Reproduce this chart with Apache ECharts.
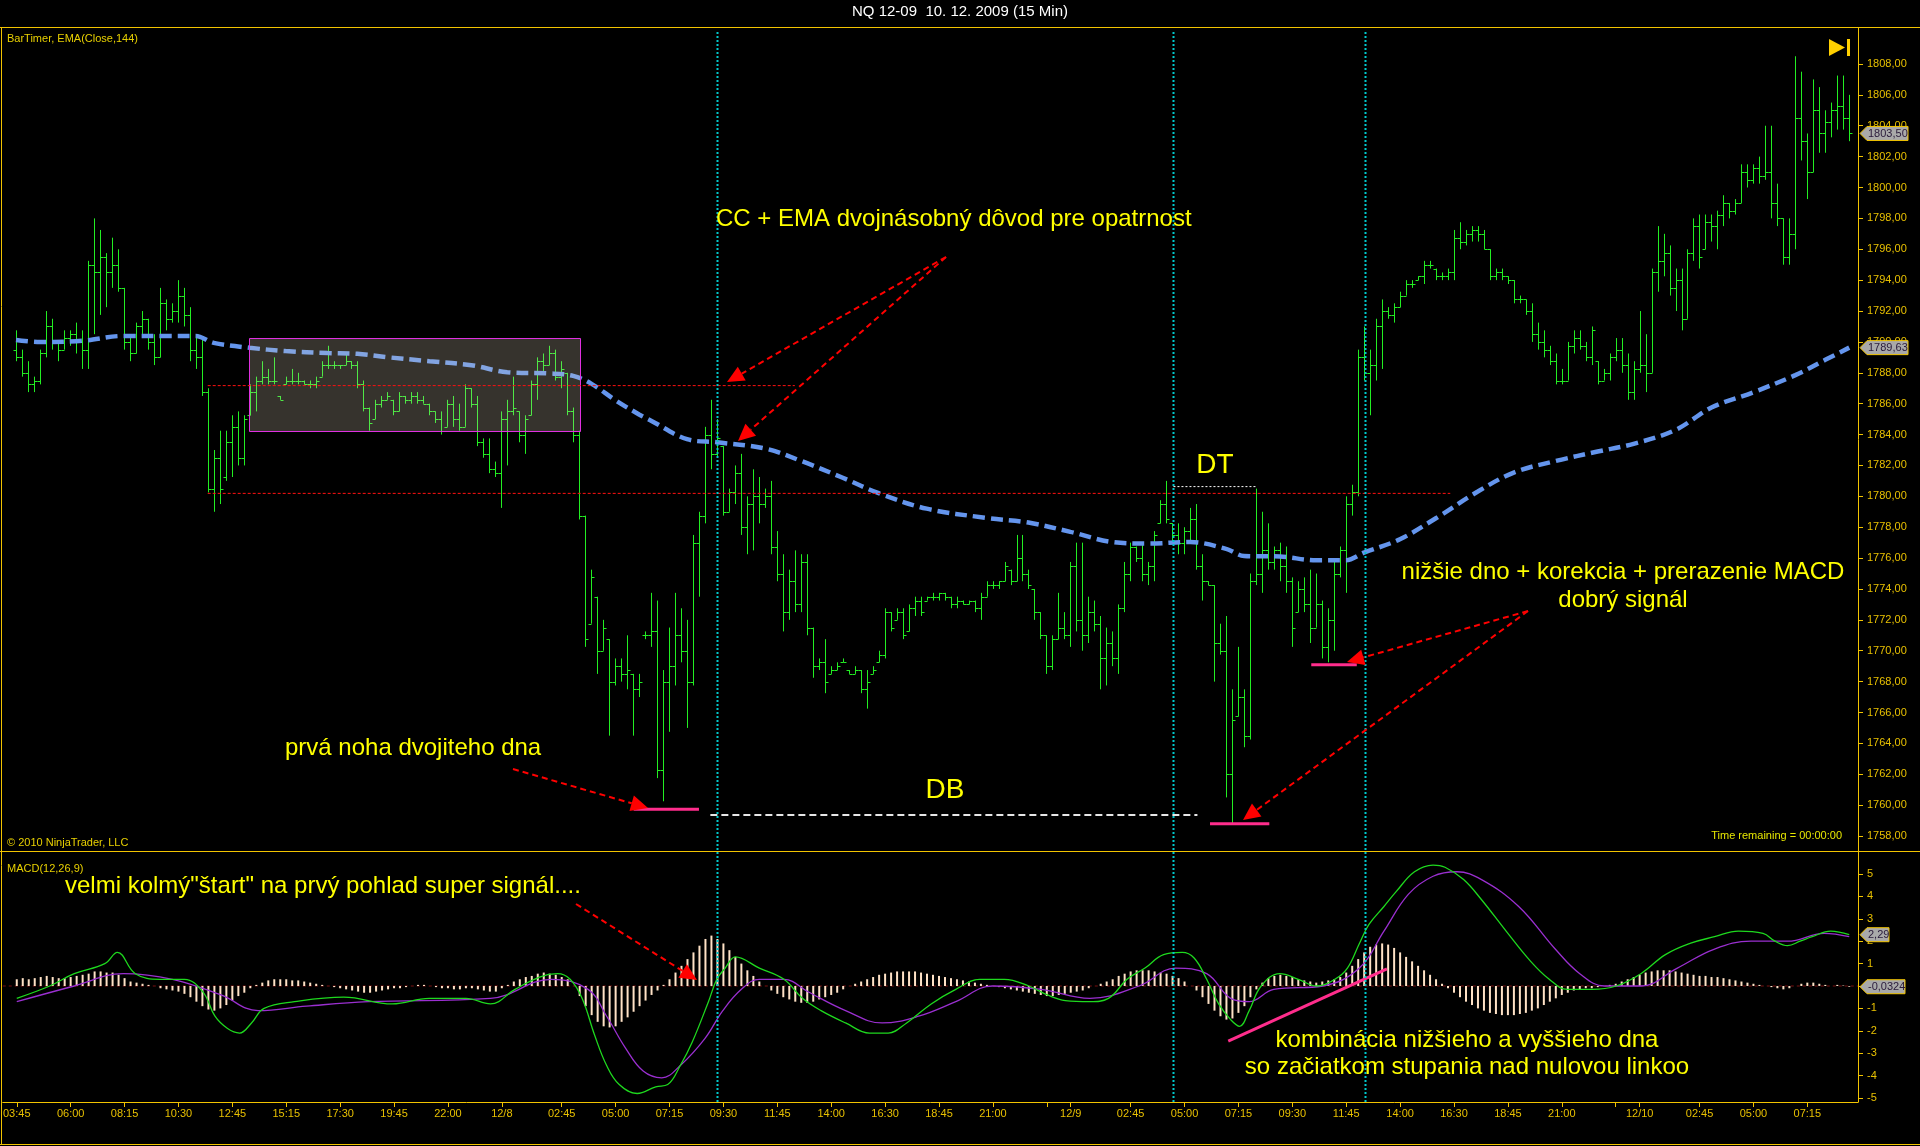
<!DOCTYPE html>
<html><head><meta charset="utf-8">
<script src="https://cdn.jsdelivr.net/npm/echarts@6/dist/echarts.min.js"></script>
<style>html,body{margin:0;padding:0;background:#000;overflow:hidden}#c{width:1920px;height:1146px}</style>
</head><body><div id="c"></div>
<script>
// ---------------- DATA ----------------
const barHigh = [
1790.75,1789.5,1788.75,1787.75,1789.5,1792,1791.5,1790,1790.75,1790.75,
1791.25,1790.75,1795.25,1798,1797.25,1795.75,1796.75,1796,1793.5,1790.5,
1791.25,1792,1791.5,1790.5,1793.5,1792.75,1792.5,1794,1793.5,1792.25,
1790.5,1790.25,1787,1783,1784.25,1784.25,1785.25,1785.5,1785.25,1787.25,
1787.75,1788.75,1788.25,1789,1786.5,1787.75,1788.25,1788,1787.5,1787.5,
1787.75,1788.75,1789.75,1788.75,1788.5,1789.25,1788.75,1788.75,1787.5,1785.75,
1786.25,1786.5,1786.75,1786.25,1786.75,1786.5,1786.75,1786.75,1786.5,1786,
1785.5,1785.5,1786.25,1786.5,1786,1787.25,1787,1786.5,1783.75,1783.75,
1782.25,1785.5,1786.25,1787.75,1785.5,1785.25,1787.5,1789,1789.25,1789.75,
1789.5,1788.75,1788,1785.75,1784.25,1778.75,1775.25,1773.5,1772,1770.75,
1769.5,1769.5,1771,1768.5,1768.5,1771.25,1773.75,1773.25,1768.75,1771.5,
1773.75,1772.75,1772,1777.5,1779,1784.5,1786.25,1785,1783.25,1780.5,
1782,1782.75,1780,1781.75,1781.25,1780.5,1781,1777.75,1776.25,1775.25,
1776.5,1776.25,1776.25,1771.5,1769.5,1770.75,1769,1769.25,1769.5,1768.75,
1769,1768.75,1768.75,1769,1770,1772.75,1772.5,1772.75,1772.75,1773,
1773.5,1773.5,1773.5,1773.75,1773.75,1773.75,1773.5,1773.5,1773.25,1773.25,
1773.25,1773.75,1774.5,1774.5,1774.5,1775.75,1775.25,1777.5,1777.5,1775.25,
1774,1772.5,1771,1771,1773.75,1772.5,1775.75,1777,1777,1773.5,
1773.25,1772.25,1771.5,1771.25,1773,1775.75,1777,1776.75,1777,1775.75,
1777.75,1779.75,1781,1778.25,1778.25,1778,1779.25,1779.5,1776.25,1774.5,
1774.25,1771.75,1772.25,1767.5,1770.25,1767.5,1775,1780.5,1779,1778.25,
1776.75,1777,1776.75,1774.75,1774.5,1774.75,1775.25,1775,1773.25,1772.75,
1775.75,1776.75,1780,1780.75,1789.5,1791,1789.5,1791.5,1792.75,1792.25,
1792.5,1793.25,1794,1794,1794.25,1795.25,1795.25,1794.75,1794.5,1794.75,
1797.25,1797.75,1797.25,1797.5,1797.5,1797.25,1796,1794.75,1794.75,1794.25,
1794,1793,1792.75,1792.5,1791.25,1790.75,1789.75,1789.25,1788.25,1790,
1790.75,1790.75,1790,1791,1788.75,1788.25,1789.25,1790.25,1790.25,1789.25,
1788.75,1792,1790.5,1794.75,1797.5,1797,1796.25,1794.75,1794.75,1796,
1798,1798.25,1798.25,1798.25,1798.5,1799.5,1799,1799.25,1801.5,1801.5,
1801.5,1802,1804,1804,1800.25,1798,1798,1808.5,1807.5,1803.5,
1807,1806.5,1805,1805.5,1807.25,1807.25,1806];
const barLow = [
1788.75,1787.75,1786.75,1786.75,1787.25,1789,1789.5,1788.75,1789.5,1789.75,
1789.25,1788.25,1788.25,1790.5,1791.75,1792.25,1793.5,1793.25,1789.5,1788.75,
1789.25,1790.25,1789.5,1788.5,1789,1790.75,1791.25,1791.25,1791,1788.75,
1788.25,1786.5,1780.25,1779,1779.5,1781,1781.25,1782,1782,1785.25,
1785.5,1787.25,1787.25,1787.25,1786.25,1787.25,1787.25,1787.25,1787.25,1787,
1787,1787.75,1788.25,1788.25,1788.25,1788.5,1788.25,1787,1785.5,1784.25,
1785,1785.75,1786.25,1785.25,1785.5,1786,1786,1786,1786,1785.25,
1784.75,1784,1784.5,1784.5,1784.25,1784.5,1785.75,1783.25,1782.5,1781.5,
1781.25,1779.25,1782,1785.25,1783.5,1782.75,1785.25,1786.25,1788,1788.5,
1787.5,1787,1785.25,1783.5,1778.5,1770.25,1771.75,1768.5,1770,1764.5,
1767.75,1768,1767.5,1764.5,1767,1770.75,1770.25,1761.75,1760.25,1764.75,
1767.75,1769.25,1765,1767.75,1773.5,1778.25,1781.75,1782.5,1778.75,1779,
1779.5,1777.5,1776.25,1776.5,1778.25,1779.25,1776.25,1774.5,1771.25,1772,
1772.5,1772.5,1771,1768.25,1768.75,1767.25,1768.5,1768.75,1769.25,1768.5,
1768.5,1767.25,1766.25,1768.5,1769.25,1769.5,1771.25,1772,1770.75,1771.25,
1772.25,1772.25,1773.25,1773.25,1773.25,1773.25,1772.75,1772.75,1773,1773,
1772.5,1772,1773.5,1774,1774,1774.5,1774.25,1774.5,1774.5,1774,
1772,1770.75,1768.5,1768.75,1770.75,1770.75,1770.25,1771.25,1770,1770.5,
1771.25,1767.5,1767.75,1769,1768.5,1772.5,1774.5,1775.75,1774.5,1774.25,
1774.5,1778.25,1778.25,1777,1776.25,1776.25,1777,1775.25,1773.25,1774.25,
1768,1769.75,1760.5,1758.75,1765.75,1763.75,1764.25,1774.25,1773.75,1775.25,
1775.25,1774.5,1773.75,1770.25,1772.5,1772.5,1770.5,1771.5,1769.5,1769.25,
1770,1774.75,1773.75,1778.75,1780,1787.5,1785.25,1787.5,1788.25,1791.5,
1791.25,1792.25,1793,1793.5,1794,1793.75,1794.75,1794,1794,1794,
1794,1796,1796.25,1796.5,1796.5,1796,1794,1794,1794,1793.75,
1792.5,1792.5,1791.75,1790,1789.5,1789,1788.5,1787.25,1787.25,1787.5,
1789.25,1789.5,1788.75,1788.5,1787.25,1787.5,1787.5,1788.75,1788,1786.25,
1786.25,1788,1786.75,1788,1793.25,1794.25,1793,1792,1790.75,1791.5,
1795.25,1794.75,1796,1796.5,1796,1797.5,1798,1798.25,1799,1800,
1800.25,1800.25,1800.5,1798,1797.5,1795,1795,1796,1801.75,1799.25,
1801,1802.25,1802.25,1803.25,1803.75,1803.75,1803];
const barOpen = [
1789.5,1789,1788,1787.25,1787.5,1789.25,1791,1790,1789.5,1790.25,
1790.5,1790,1789.5,1795,1794.5,1795.5,1794.5,1795,1793.5,1790,
1789.25,1791,1791.5,1790,1789,1792.5,1791.5,1792,1793,1791.75,
1789.5,1789,1786.75,1780.5,1782.5,1781.25,1783.5,1784.5,1782.5,1785.25,
1786.75,1787.5,1787.75,1787.5,1786.5,1787.25,1787.5,1787.5,1787.5,1787.25,
1787.25,1787.75,1788.5,1788.5,1788.5,1788.5,1788.75,1788.5,1787.25,1785.75,
1785,1786,1786.25,1786.25,1785.5,1786.5,1786.25,1786.5,1786.25,1786,
1785.5,1785,1784.5,1786,1785,1784.5,1787,1786,1783.5,1782.75,
1781.75,1781.5,1785,1785.5,1785.5,1784,1785.25,1787.25,1788.75,1788.5,
1789.25,1787.75,1788,1785.5,1784,1778.75,1771.75,1773.5,1770,1770.75,
1768,1769,1768.5,1768.5,1767.5,1771,1771,1771.25,1762.25,1768,
1769,1771,1770,1768,1777,1778.75,1784,1782.75,1783.25,1779,
1780.25,1781.5,1778,1779.5,1780,1779.5,1780,1776.75,1775,1772.5,
1774.5,1773,1775.75,1771.5,1769,1769.25,1768.5,1768.75,1769.25,1768.75,
1768.5,1768.75,1767.5,1768.5,1769.25,1769.75,1772.5,1772,1772.5,1771.25,
1772.75,1773.25,1773.25,1773.5,1773.5,1773.75,1773.5,1773,1773.25,1773,
1773.25,1772.75,1773.5,1774.25,1774.25,1774.5,1775.25,1774.5,1776,1775,
1774,1772.5,1771,1769,1770.75,1771.5,1771,1775.5,1772,1771,
1772.5,1771.75,1769.5,1770.5,1769.5,1772.75,1775,1776.75,1776,1775,
1775.5,1778.25,1779.5,1778.25,1777.5,1777,1777.75,1778.5,1775.5,1774.5,
1774.25,1770.5,1770,1762,1765.75,1767,1764.5,1774.5,1775,1776.5,
1775.75,1776.5,1775.5,1774.5,1772.5,1774,1773,1771.5,1773,1770.25,
1772,1775,1776.5,1779.5,1780.25,1789,1788,1788.5,1791,1792,
1791.75,1792.25,1793,1793.75,1794,1794.25,1795,1794.75,1794.25,1794.25,
1794.5,1796.75,1796.5,1797,1797.25,1797,1796,1794.25,1794.5,1794.25,
1794,1792.75,1792.75,1792,1790.5,1790,1789.5,1788.75,1787.5,1787.5,
1789.75,1790.25,1789.75,1789,1788.75,1787.5,1788,1789,1789.5,1788.5,
1786.75,1788.25,1788.5,1788,1794.5,1795.25,1795.75,1793.5,1794,1791.5,
1795.75,1797.5,1796,1797.75,1797.5,1798.25,1799,1798.5,1799,1801,
1800.5,1801.25,1800.75,1801,1799,1798,1795.5,1797,1804.5,1803,
1801,1805,1803.5,1804.25,1805,1805.25,1804.5];
const barClose = [
1789,1788,1787.25,1787.5,1789.25,1791,1790,1789.5,1790.25,1790.5,
1790,1789.5,1795,1794.5,1795.5,1794.5,1795,1793.5,1790,1789.25,
1791,1791.5,1790,1789,1792.5,1791.5,1792,1793,1791.75,1789.5,
1789,1786.75,1780.5,1782.5,1780.5,1783.5,1784.5,1782.5,1785,1786.75,
1787.5,1787.75,1787.5,1787.5,1786.25,1787.5,1787.5,1787.5,1787.25,1787.25,
1787.5,1788.5,1788.5,1788.5,1788.5,1788.75,1788.5,1787.25,1785.75,1784.75,
1786,1786.25,1786.5,1785.5,1786.5,1786.25,1786.5,1786.25,1786,1785.5,
1785,1784.25,1786,1785,1784.5,1787,1786,1783.5,1782.75,1781.75,
1781.5,1785,1785.5,1785.75,1784,1785,1787.25,1788.75,1788.5,1789.25,
1787.75,1788.25,1785.5,1784,1778.75,1770.75,1774.75,1770,1771.5,1768,
1769,1768.5,1768.75,1767.5,1768,1771,1771.25,1762.25,1768,1769,
1771,1770,1768,1777,1778.75,1784,1782.75,1783.75,1779,1780.25,
1781.5,1778,1779.5,1780,1779.5,1780,1776.75,1775,1772.5,1774.5,
1773,1775.75,1771.5,1769,1769.25,1768,1768.75,1769,1769.25,1768.5,
1768.75,1767.5,1768,1768.75,1769.75,1772.5,1771.5,1772.5,1771,1772.75,
1773.25,1772.5,1773.5,1773.5,1773.75,1773.5,1773,1773.25,1773,1773.25,
1772.75,1773.5,1774.25,1774.25,1774.5,1775.5,1774.5,1776,1775,1774.25,
1772.5,1771,1769,1770.75,1771.5,1771,1775.5,1772,1771,1772.5,
1771.75,1769.5,1770.5,1769.5,1772.75,1775,1776.75,1776,1775,1775.5,
1777.5,1779.5,1778.5,1777.5,1777,1777.75,1778.5,1775.5,1774.5,1774.25,
1770.5,1770,1762,1765.5,1767,1764.5,1774.5,1775,1776.5,1775.75,
1776.5,1775.5,1774.5,1771.5,1774,1773,1771.5,1773,1770.25,1772,
1775,1776.5,1779.5,1780.25,1789,1788,1788.5,1791,1792,1791.75,
1792.25,1793,1793.75,1793.75,1794.25,1795,1795,1794.25,1794.25,1794.5,
1796.75,1796.5,1797,1797.25,1797,1796,1794.25,1794.5,1794.25,1794,
1792.75,1792.75,1792,1790.5,1790,1789.5,1788.75,1787.5,1787.5,1789.75,
1790.25,1789.75,1789,1790.75,1787.5,1788,1789,1789.5,1788.5,1786.75,
1788.25,1788.5,1788,1794.5,1795.25,1795.75,1793.5,1794,1791.5,1795.75,
1797.5,1795.5,1797.75,1797.5,1798.25,1799,1798.5,1799,1801,1800.5,
1801.25,1800.75,1801,1799,1798,1795.5,1797,1804.5,1803,1801,
1805,1803.5,1804.25,1805,1805.25,1804.5,1803.5];

// EMA(144): [bar index, value]
const emaPoints = [[0,1790.13],[4,1790.0],[11,1790.07],[18,1790.39],[25,1790.39],[30,1790.39],[33,1789.94],[39,1789.62],[45,1789.41],[52,1789.28],[57,1789.23],[62,1789.01],[69,1788.75],[76,1788.49],[82,1788.04],[89,1787.96],[93,1787.8],[96,1787.3],[100,1786.24],[104,1785.3],[106,1784.9],[112,1783.7],[117,1783.5],[125,1783.1],[131,1782.3],[138,1781.2],[144,1780.2],[152,1779.2],[162,1778.6],[169,1778.3],[176,1777.7],[183,1777.04],[189,1776.94],[196,1777.04],[202,1776.6],[205,1776.14],[211,1776.1],[217,1775.86],[222,1775.86],[225,1776.35],[231,1777.22],[237,1778.58],[244,1780.31],[250,1781.54],[257,1782.29],[264,1782.9],[270,1783.4],[277,1784.3],[283,1785.75],[290,1786.74],[297,1787.85],[302,1788.84],[306,1789.63]];

// MACD(12,26,9) line and signal: [bar index, value]
const macdPoints = [[0,-0.55],[5.5,0],[9.6,0.55],[14.7,1.0],[16.8,1.5],[19.8,0.55],[23.9,0.3],[28,0.3],[31.1,-0.27],[33.1,-1.35],[35.2,-1.9],[37.2,-2.1],[39.2,-1.65],[41.3,-1.0],[46.4,-0.7],[54.6,-0.5],[62.7,-0.8],[68.9,-0.55],[75,-0.55],[79.1,-0.8],[83.2,-0.15],[87.3,0.4],[90.3,0.55],[92.4,0.3],[94.4,-0.55],[96.5,-2.2],[98.5,-3.55],[100.6,-4.4],[103.6,-4.8],[106.7,-4.5],[108.7,-4.4],[110.8,-3.55],[112.8,-2.5],[115.5,-0.7],[116.9,0.3],[118.3,0.8],[120,1.3],[124,0.8],[128.1,0.3],[131.2,-0.55],[134.3,-1.1],[138.4,-1.65],[142.4,-2.1],[145.5,-2.1],[148.6,-1.65],[152.7,-0.8],[156.8,-0.15],[160.8,0.3],[164.9,0.3],[169,0],[172.1,-0.4],[175.1,-0.65],[179.2,-0.7],[182.3,-0.55],[185.4,0.3],[188.4,0.8],[191.5,1.4],[194.6,1.5],[196.6,1.25],[198.7,0.3],[200.7,-0.8],[202.7,-1.5],[204.2,-1.8],[205.8,-1.1],[207.8,0],[210.9,0.55],[214,0.3],[217,0],[220.1,0.3],[222.2,0.8],[224.2,1.9],[225.8,2.75],[228.3,3.55],[230.3,4.2],[233.4,5.1],[236.5,5.4],[238.5,5.3],[241.6,4.75],[244.6,3.85],[248.7,2.45],[252.8,1.1],[255.9,0.3],[258.9,-0.15],[263,-0.15],[267.1,0],[271.2,0.55],[275.3,1.4],[279.4,1.9],[283.5,2.2],[287.5,2.45],[291.6,2.35],[293.6,2.0],[295.7,1.8],[297.8,2.0],[299.8,2.2],[302.9,2.45],[306,2.29]];
const signalPoints = [[0,-0.7],[9.6,0],[17.8,0.55],[26,0.3],[34.1,-0.4],[40.3,-1.1],[48.4,-0.9],[58.7,-0.7],[79.1,-0.55],[89.3,0.3],[95.4,-0.15],[98.5,-1.35],[101.6,-2.75],[104.6,-3.8],[107.7,-4.1],[110.8,-3.55],[114.9,-2.35],[117.9,-1.1],[121,-0.15],[124,0.3],[128.1,0.3],[132.2,-0.27],[138.4,-1.1],[144.5,-1.65],[150.6,-1.35],[156.8,-0.7],[162.9,0],[171.1,-0.15],[179.2,-0.55],[187.4,0],[193.5,0.8],[198.7,0.55],[202.7,-0.55],[205.8,-0.7],[209.9,-0.15],[218.1,0],[224.2,0.8],[228.3,2.45],[232.4,4.1],[236.5,4.9],[240.5,5.1],[244.6,4.75],[250.8,3.55],[256.9,1.65],[261,0.55],[265.1,0],[271.2,0],[277.3,0.8],[283.5,1.65],[289.6,2.0],[295.7,2.0],[301.8,2.35],[306,2.2]];
// MACD histogram, one value per bar
const histValues = [
0.3,0.35,0.3,0.35,0.4,0.45,0.4,0.35,0.35,0.4,
0.45,0.5,0.55,0.65,0.65,0.6,0.6,0.5,0.35,0.2,
0.15,0.1,0.05,0.0,-0.1,-0.15,-0.2,-0.25,-0.35,-0.5,
-0.7,-0.9,-1.05,-1.1,-1.0,-0.85,-0.65,-0.45,-0.3,-0.1,
0.05,0.15,0.25,0.3,0.3,0.3,0.25,0.25,0.2,0.15,
0.1,0.05,0.0,-0.05,-0.1,-0.15,-0.2,-0.25,-0.3,-0.3,
-0.25,-0.2,-0.15,-0.1,-0.1,-0.05,0.0,0.05,0.05,0.0,
-0.05,-0.1,-0.1,-0.15,-0.15,-0.1,-0.1,-0.15,-0.2,-0.25,
-0.25,-0.1,0.05,0.2,0.3,0.4,0.45,0.55,0.6,0.55,
0.5,0.4,0.3,0.0,-0.45,-0.9,-1.3,-1.6,-1.8,-1.85,
-1.8,-1.6,-1.4,-1.15,-0.9,-0.65,-0.4,-0.2,0.05,0.3,
0.6,0.9,1.2,1.5,1.8,2.1,2.25,2.1,1.9,1.6,
1.3,1.0,0.7,0.45,0.2,0.0,-0.2,-0.35,-0.5,-0.6,
-0.7,-0.75,-0.75,-0.7,-0.6,-0.5,-0.4,-0.3,-0.15,0.0,
0.1,0.2,0.3,0.4,0.5,0.55,0.6,0.65,0.65,0.65,
0.65,0.6,0.55,0.5,0.45,0.4,0.35,0.3,0.25,0.2,
0.15,0.1,0.05,0.0,-0.05,-0.1,-0.15,-0.2,-0.25,-0.3,
-0.35,-0.4,-0.45,-0.45,-0.4,-0.35,-0.3,-0.25,-0.2,-0.1,
0.0,0.1,0.2,0.3,0.45,0.55,0.65,0.7,0.7,0.7,
0.65,0.6,0.55,0.45,0.35,0.2,0.0,-0.2,-0.5,-0.8,
-1.1,-1.35,-1.5,-1.45,-1.2,-0.9,-0.5,-0.15,0.15,0.35,
0.45,0.5,0.45,0.4,0.3,0.25,0.2,0.15,0.2,0.25,
0.3,0.4,0.6,0.9,1.2,1.5,1.75,1.85,1.9,1.85,
1.7,1.5,1.3,1.1,0.9,0.7,0.5,0.3,0.1,-0.1,
-0.3,-0.5,-0.7,-0.85,-1.0,-1.1,-1.2,-1.25,-1.3,-1.3,
-1.3,-1.25,-1.2,-1.1,-1.0,-0.85,-0.7,-0.55,-0.4,-0.3,
-0.2,-0.15,-0.1,-0.1,-0.05,0.0,0.05,0.1,0.2,0.3,
0.4,0.5,0.6,0.65,0.7,0.7,0.7,0.65,0.6,0.55,
0.5,0.45,0.45,0.4,0.4,0.35,0.3,0.25,0.2,0.15,
0.1,0.05,0.0,-0.05,-0.1,-0.15,-0.1,0.0,0.1,0.15,
0.15,0.1,0.05,0.0,0.05,0.02,-0.0324];

// x axis ticks (bar index) and labels
const xTickIdx    = [0,9,18,27,36,45,54,63,72,81,91,100,109,118,127,136,145,154,163,172,176,186,195,204,213,222,231,240,249,258,267,271,281,290,299];
const xTickLabels = ['03:45','06:00','08:15','10:30','12:45','15:15','17:30','19:45','22:00','12/8','02:45','05:00','07:15','09:30','11:45','14:00','16:30','18:45','21:00','','12/9','02:45','05:00','07:15','09:30','11:45','14:00','16:30','18:45','21:00','','12/10','02:45','05:00','07:15'];
const priceTicks = [1758,1760,1762,1764,1766,1768,1770,1772,1774,1776,1778,1780,1782,1784,1786,1788,1790,1792,1794,1796,1798,1800,1802,1804,1806,1808];
const macdTicks = [-5,-4,-3,-2,-1,0,1,2,3,4,5];
const lastPrice = 1803.50, lastEma = 1789.63, lastMacd = 2.29, lastHist = -0.0324;

// annotation geometry (bar index / value units)
const boxRange = [38.9, 94.1, 1784.23, 1790.25];
const redLevels = [[32,130,1787.17],[32,239.4,1780.19]];
const dbLine = [115.9,197.2,1759.36];
const dtLine = [193.2,207.2,1780.63];
const pinkLines = [[103.1,114.0,1759.73],[199.3,209.2,1758.8],[216.2,223.8,1769.1]];
const macdPinkLine = [[202.3,-2.46],[228.8,0.76]];
const cyanIdx = [117.0,193.2,225.2];

// ---------------- CHART ----------------
const GOLD = '#F2C400', LBL = '#E8C000';
const XMIN = -2.337, XMAX = 307.46;
const chart = echarts.init(document.getElementById('c'));
const fmt2 = v => v.toFixed(2).replace('.', ',');
const labelMap = {};
xTickIdx.forEach((v, i) => labelMap[v] = xTickLabels[i]);

const ohlc = barHigh.map((h, i) => [i, barOpen[i], h, barLow[i], barClose[i]]);
const hist = histValues.map((v, i) => [i, v]);

function seg(xa, ya, pts, color, width, dash, z) {
  return {type:'line', xAxisIndex:xa, yAxisIndex:ya, data:pts, symbol:'none', silent:true, animation:false,
    lineStyle:{color, width, type:dash}, z:z||6};
}

const series = [
  {type:'custom', xAxisIndex:0, yAxisIndex:0, data:ohlc, encode:{x:0, y:[1,2,3,4]}, z:2, animation:false,
   renderItem(p, api) {
     const i = api.value(0);
     const o = api.coord([i, api.value(1)]), h = api.coord([i, api.value(2)]),
           l = api.coord([i, api.value(3)]), c = api.coord([i, api.value(4)]);
     const x = Math.round(h[0]) + 0.5;
     let y1 = h[1], y2 = l[1]; if (y2 - y1 < 1) y2 = y1 + 1;
     const st = {stroke:'#22EE22', lineWidth:1};
     const oy = Math.round(o[1]) + 0.5, cy = Math.round(c[1]) + 0.5;
     return {type:'group', children:[
       {type:'line', shape:{x1:x, y1:y1, x2:x, y2:y2}, style:st},
       {type:'line', shape:{x1:x-3, y1:oy, x2:x, y2:oy}, style:st},
       {type:'line', shape:{x1:x, y1:cy, x2:x+3, y2:cy}, style:st}
     ]};
   }},
  {type:'line', xAxisIndex:0, yAxisIndex:0, data:emaPoints, smooth:0.35, symbol:'none', z:3, animation:false,
   lineStyle:{color:'#6495ED', width:4.5, type:[12,6]}},
  {type:'custom', xAxisIndex:0, yAxisIndex:0, data:[boxRange], encode:{x:[0,1], y:[2,3]}, z:4, animation:false,
   renderItem(p, api) {
     const a = api.coord([api.value(0), api.value(3)]), b = api.coord([api.value(1), api.value(2)]);
     return {type:'rect', shape:{x:Math.round(a[0])+0.5, y:Math.round(a[1])+0.5, width:Math.round(b[0]-a[0]), height:Math.round(b[1]-a[1])},
       style:{fill:'rgba(225,215,190,0.24)', stroke:'#E030E0', lineWidth:1}};
   }},
  // MACD pane
  {type:'line', xAxisIndex:1, yAxisIndex:1, data:[[XMIN,0],[XMAX,0]], symbol:'none', silent:true, z:1, animation:false,
   lineStyle:{color:'#7A1010', width:1, type:[3,3]}},
  {type:'bar', xAxisIndex:1, yAxisIndex:1, data:hist, barWidth:2, z:2, animation:false,
   itemStyle:{color:'#FFE2C6'}},
  {type:'line', xAxisIndex:1, yAxisIndex:1, data:signalPoints, smooth:0.4, symbol:'none', z:3, animation:false,
   lineStyle:{color:'#9A2FD0', width:1.3}},
  {type:'line', xAxisIndex:1, yAxisIndex:1, data:macdPoints, smooth:0.4, symbol:'none', z:4, animation:false,
   lineStyle:{color:'#1ED81E', width:1.3}}
];
redLevels.forEach(r => series.push(seg(0,0,[[r[0],r[2]],[r[1],r[2]]],'#FF1010',1,[3,2],5)));
series.push(seg(0,0,[[dbLine[0],dbLine[2]],[dbLine[1],dbLine[2]]],'#E6E6E6',2,[7,4],6));
series.push(seg(0,0,[[dtLine[0],dtLine[2]],[dtLine[1],dtLine[2]]],'#FFFFFF',1,[2,2],6));
pinkLines.forEach(r => series.push(seg(0,0,[[r[0],r[2]],[r[1],r[2]]],'#FF2D8C',3,'solid',6)));
series.push(seg(1,1,macdPinkLine,'#FF2D8C',3,'solid',6));

const axisBase = {
  type:'value', min:XMIN, max:XMAX, boundaryGap:false, splitLine:{show:false}
};
chart.setOption({
  backgroundColor:'#000000',
  animation:false,
  grid:[
    {left:2, right:62, top:28, height:823},
    {left:2, right:62, top:851, height:251}
  ],
  xAxis:[
    Object.assign({gridIndex:0, axisLine:{show:false, onZero:false}, axisTick:{show:false}, axisLabel:{show:false}}, axisBase),
    Object.assign({gridIndex:1, position:'bottom',
      axisLine:{show:true, onZero:false, lineStyle:{color:GOLD, width:1}},
      axisTick:{show:true, length:5, lineStyle:{color:GOLD}, customValues:xTickIdx},
      axisLabel:{show:true, color:LBL, fontSize:11, fontFamily:'Liberation Sans, Arial, sans-serif', margin:6,
        customValues:xTickIdx.filter((v,i)=>xTickLabels[i]!==''), formatter:v => labelMap[v] || ''}}, axisBase)
  ],
  yAxis:[
    {type:'value', gridIndex:0, position:'right', min:1757.03, max:1810.33, splitLine:{show:false},
     axisLine:{show:true, onZero:false, lineStyle:{color:GOLD}}, axisTick:{show:true, length:5, lineStyle:{color:GOLD}, customValues:priceTicks},
     axisLabel:{color:LBL, fontSize:11, fontFamily:'Liberation Sans, Arial, sans-serif', margin:9, customValues:priceTicks, formatter:fmt2}},
    {type:'value', gridIndex:1, position:'right', min:-5.179, max:6.027, splitLine:{show:false},
     axisLine:{show:true, onZero:false, lineStyle:{color:GOLD}}, axisTick:{show:true, length:5, lineStyle:{color:GOLD}, customValues:macdTicks},
     axisLabel:{color:LBL, fontSize:11, fontFamily:'Liberation Sans, Arial, sans-serif', margin:9, customValues:macdTicks, formatter:v => String(v)}}
  ],
  series
});

// ---------------- GRAPHICS (frame, texts, arrows, flags) ----------------
const F = 'Liberation Sans, Arial, sans-serif';
function txt(x, y, text, size, color, align, vAlign) {
  return {type:'text', x, y, z:50, silent:true,
    style:{text, fill:color, font:size+'px '+F, textAlign:align||'left', textVerticalAlign:vAlign||'middle', align:align||'left', verticalAlign:vAlign||'middle'}};
}
function hline(x1, x2, y, color) { return {type:'line', z:40, silent:true, shape:{x1, y1:y, x2, y2:y}, style:{stroke:color, lineWidth:1}}; }
function vline(x, y1, y2, color) { return {type:'line', z:40, silent:true, shape:{x1:x, y1, x2:x, y2}, style:{stroke:color, lineWidth:1}}; }
function arrow(x1, y1, x2, y2) {
  const a = Math.atan2(y2 - y1, x2 - x1), L = 17, W = 8;
  const bx = x2 - L * Math.cos(a), by = y2 - L * Math.sin(a);
  const px = -Math.sin(a) * W, py = Math.cos(a) * W;
  return [
    {type:'line', z:45, silent:true, shape:{x1, y1, x2:bx, y2:by}, style:{stroke:'#FF0000', lineWidth:2, lineDash:[6,4]}},
    {type:'polygon', z:45, silent:true, shape:{points:[[x2,y2],[bx+px,by+py],[bx-px,by-py]]}, style:{fill:'#FF0000'}}
  ];
}
function flag(y, text, w) {
  const x0 = 1860;
  return [
    {type:'polygon', z:60, silent:true, shape:{points:[[x0,y],[x0+7,y-7],[x0+w,y-7],[x0+w,y+7],[x0+7,y+7]]},
     style:{fill:'#A9A9A9', stroke:'#F2C400', lineWidth:1}},
    {type:'text', z:61, silent:true, x:x0+8, y:y+0.5, style:{text, fill:'#2A1A3A', font:'11px '+F, textVerticalAlign:'middle', verticalAlign:'middle'}}
  ];
}

const g = [];
g.push(hline(0, 1920, 27.5, GOLD), hline(0, 1920, 851.5, GOLD), hline(0, 1920, 1144.5, GOLD), vline(1.5, 27, 1145, GOLD));
// cyan session lines
cyanIdx.forEach(ix => {
  const x = Math.round(chart.convertToPixel({xAxisIndex:0}, ix)) + 0.5;
  g.push({type:'line', z:30, silent:true, shape:{x1:x, y1:32, x2:x, y2:1102}, style:{stroke:'#00C8CC', lineWidth:2, lineDash:[2,2]}});
});
g.push(txt(960, 12, 'NQ 12-09  10. 12. 2009 (15 Min)', 15, '#FFFFFF', 'center'));
g.push(txt(7, 39, 'BarTimer, EMA(Close,144)', 11, '#E8D000'));
g.push(txt(7, 843, '\u00A9 2010 NinjaTrader, LLC', 11, '#E8D000'));
g.push(txt(1842, 836, 'Time remaining = 00:00:00', 11, '#E6E600', 'right'));
g.push(txt(7, 869, 'MACD(12,26,9)', 11, '#E8D000'));
// annotations
const Y = '#FFFF00';
g.push(txt(716, 219, 'CC + EMA dvojnásobný dôvod pre opatrnost', 24, Y));
g.push(txt(285, 748, 'prvá noha dvojiteho dna', 24, Y));
g.push(txt(945, 790, 'DB', 28, Y, 'center'));
g.push(txt(1215, 465, 'DT', 28, Y, 'center'));
g.push(txt(1623, 572, 'nižšie dno + korekcia + prerazenie MACD', 24, Y, 'center'));
g.push(txt(1623, 600, 'dobrý signál', 24, Y, 'center'));
g.push(txt(65, 886, 'velmi kolmý"štart" na prvý pohlad super signál....', 24, Y));
g.push(txt(1467, 1040, 'kombinácia nižšieho a vyššieho dna', 24, Y, 'center'));
g.push(txt(1467, 1067, 'so začiatkom stupania nad nulovou linkoo', 24, Y, 'center'));
// arrows
[[946,257,727,382],[946,257,738,441],[513,769,648,808],[1528,611,1347,662],[1528,611,1243,820],[576,904,697,980]]
  .forEach(a => g.push(...arrow(a[0], a[1], a[2], a[3])));
// play-to-end icon
g.push({type:'polygon', z:50, silent:true, shape:{points:[[1829,39],[1845,47.5],[1829,56]]}, style:{fill:'#FFD000'}});
g.push({type:'rect', z:50, silent:true, shape:{x:1847, y:39, width:3, height:17}, style:{fill:'#FFD000'}});
// flags
const yP = chart.convertToPixel({yAxisIndex:0}, lastPrice);
const yE = chart.convertToPixel({yAxisIndex:0}, lastEma);
const yM = chart.convertToPixel({yAxisIndex:1}, lastMacd);
const yH = chart.convertToPixel({yAxisIndex:1}, lastHist);
g.push(...flag(yP, fmt2(lastPrice), 48), ...flag(yE, fmt2(lastEma), 48),
       ...flag(yM, String(lastMacd).replace('.', ','), 29), ...flag(yH, String(lastHist).replace('.', ','), 45));
chart.setOption({graphic:{elements:g}});
</script>
</body></html>
